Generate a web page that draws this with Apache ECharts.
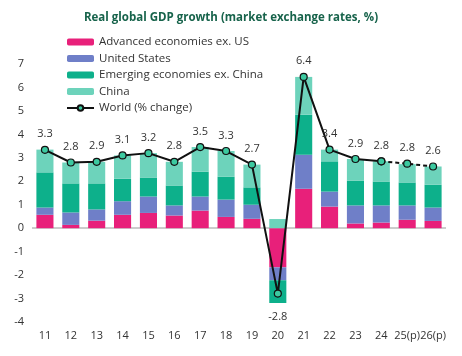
<!DOCTYPE html>
<html><head><meta charset="utf-8">
<script src="https://cdn.jsdelivr.net/npm/echarts@6/dist/echarts.min.js"></script>
<style>html,body{margin:0;padding:0;background:#fff}#c{width:462px;height:356px}</style>
</head><body><div id="c"></div>
<script>
const categories = ['11','12','13','14','15','16','17','18','19','20','21','22','23','24','25(p)','26(p)'];
const advancedExUS = [0.57,0.14,0.32,0.57,0.65,0.54,0.75,0.48,0.40,-1.67,1.68,0.92,0.20,0.24,0.36,0.31];
const unitedStates = [0.31,0.53,0.48,0.58,0.70,0.43,0.60,0.74,0.60,-0.55,1.45,0.64,0.77,0.73,0.61,0.57];
const emergingExChina = [1.50,1.24,1.11,0.96,0.81,0.85,1.06,0.97,0.74,-0.97,1.71,1.29,1.06,1.02,0.98,0.97];
const china = [0.97,0.89,0.92,0.99,1.04,1.01,1.05,1.10,0.97,0.39,1.61,0.50,0.92,0.86,0.78,0.78];
const world = [3.3,2.8,2.9,3.1,3.2,2.8,3.5,3.3,2.7,-2.8,6.4,3.4,2.9,2.8,2.8,2.6];
const worldPlot = [3.34,2.80,2.83,3.10,3.20,2.83,3.46,3.29,2.71,-2.79,6.45,3.35,2.95,2.85,2.75,2.63];
const yTicks = [-4,-3,-2,-1,0,1,2,3,4,5,6,7];
const solidUntil = 13;

const font = 'Open Sans';
const chart = echarts.init(document.getElementById('c'));
const labelFor = (v,i,show) => {
  if (v === null) return null;
  const neg = v < 0;
  return {value:v, label:{show:show, position: neg?'bottom':'top', distance: neg?14:6,
    formatter: world[i].toFixed(1)}};
};
const solid = worldPlot.map((v,i)=> i<=solidUntil ? labelFor(v,i,i<solidUntil) : null);
const dashed = worldPlot.map((v,i)=> i>=solidUntil ? labelFor(v,i,true) : null);
const barS = (name, data, color) => ({
  name, type:'bar', stack:'s', data, itemStyle:{color},
  barWidth:'66%', stackStrategy:'samesign'
});
const lineBase = {type:'line', symbol:'circle', symbolSize:7, z:5,
  itemStyle:{color:'#3cc9a0', borderColor:'#111', borderWidth:1.2},
  label:{fontFamily:font, fontSize:11, color:'#333'}};
const series = [
  barS('Advanced economies ex. US', advancedExUS, '#e8207a'),
  barS('United States', unitedStates, '#6f7fc8'),
  barS('Emerging economies ex. China', emergingExChina, '#0db08b'),
  barS('China', china, '#6dd3bb'),
  Object.assign({}, lineBase, {name:'World (% change)', data:solid,
    lineStyle:{color:'#111', width:2}}),
  Object.assign({}, lineBase, {name:'World (% change)', data:dashed,
    lineStyle:{color:'#111', width:2, type:[4,3]}})
];
series[0].markLine = {silent:true, symbol:'none', label:{show:false},
  lineStyle:{color:'#bbb', width:1.5, type:'solid'}, data:[{yAxis:0}], z:1};
chart.setOption({
  animation:false,
  title:{text:'Real global GDP growth (market exchange rates, %)', left:'center', top:7,
    textStyle:{fontFamily:font, fontSize:11.5, fontWeight:'bold', color:'#17634b'}},
  legend:{orient:'vertical', left:61, top:31, itemWidth:27, itemHeight:7, itemGap:4.5,
    textStyle:{fontFamily:font, fontSize:11.5, color:'#333'},
    data:['Advanced economies ex. US','United States','Emerging economies ex. China','China','World (% change)']},
  grid:{left:32, right:16, top:64, bottom:34, outerBoundsMode:'none'},
  xAxis:{type:'category', data:categories,
    axisLine:{show:false}, axisTick:{show:false},
    axisLabel:{interval:0, fontFamily:font, fontSize:11, color:'#333', margin:8}},
  yAxis:{type:'value', min:-4, max:7, interval:1, splitLine:{show:false},
    axisLabel:{fontFamily:font, fontSize:11, color:'#333', margin:8}},
  series
});
</script></body></html>
